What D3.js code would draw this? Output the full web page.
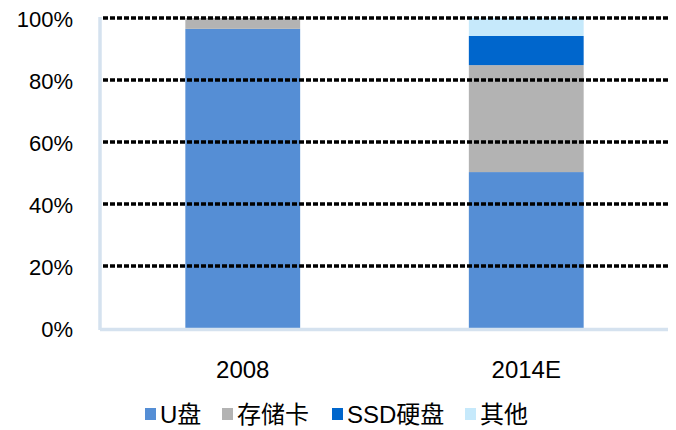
<!DOCTYPE html>
<html>
<head>
<meta charset="utf-8">
<script src="https://cdn.jsdelivr.net/npm/d3@7"></script>
<style>
    body { margin: 0; background: #fff; }
    svg text { font-family: "Liberation Sans", Arial, "Noto Sans CJK SC", sans-serif; fill: #000; }
</style>
</head>
<body>
<div id="chart"></div>
<script>
"use strict";

var categories = ["2008", "2014E"];
var seriesNames = ["U盘", "存储卡", "SSD硬盘", "其他"];
var seriesColors = ["#558ed5", "#b3b3b3", "#0066cc", "#c6e9fb"];
var uDisk = [96.5, 50.3];
var memoryCard = [3.5, 34.5];
var ssd = [0, 9.4];
var other = [0, 5.8];
var yTicks = [0, 20, 40, 60, 80, 100];

var width = 676, height = 430;
var margin = { top: 18, right: 8, bottom: 102, left: 101 };
var innerW = width - margin.left - margin.right;
var innerH = height - margin.top - margin.bottom;

var rows = categories.map(function(c, i) {
    return { cat: c, "U盘": uDisk[i], "存储卡": memoryCard[i], "SSD硬盘": ssd[i], "其他": other[i] };
});
var stacked = d3.stack().keys(seriesNames)(rows);

var svg = d3.select("#chart").append("svg")
    .attr("width", width)
    .attr("height", height);

var g = svg.append("g")
    .attr("transform", "translate(" + margin.left + "," + margin.top + ")");

var x = d3.scaleBand().domain(categories).range([0, innerW]).paddingInner(0.595).paddingOuter(0.2975);
var y = d3.scaleLinear().domain([0, 100]).range([innerH, 0]);
var color = d3.scaleOrdinal().domain(seriesNames).range(seriesColors);

// bars
g.selectAll("g.layer")
    .data(stacked)
    .enter().append("g")
    .attr("class", "layer")
    .attr("fill", function(d) { return color(d.key); })
    .selectAll("rect")
    .data(function(d) { return d; })
    .enter().append("rect")
    .attr("x", function(d) { return x(d.data.cat); })
    .attr("width", x.bandwidth())
    .attr("y", function(d) { return y(d[1]); })
    .attr("height", function(d) { return y(d[0]) - y(d[1]); });

// dashed gridlines on top
g.selectAll("line.grid")
    .data(yTicks.filter(function(t) { return t > 0; }))
    .enter().append("line")
    .attr("class", "grid")
    .attr("x1", 2)
    .attr("x2", innerW)
    .attr("y1", function(d) { return y(d); })
    .attr("y2", function(d) { return y(d); })
    .attr("stroke", "#000")
    .attr("stroke-width", 3.5)
    .attr("stroke-dasharray", "5,2");

// axes lines
g.append("line")
    .attr("x1", -1).attr("x2", -1)
    .attr("y1", -1).attr("y2", innerH + 2)
    .attr("stroke", "#d5e2ef").attr("stroke-width", 3.5);
g.append("line")
    .attr("x1", -1).attr("x2", innerW)
    .attr("y1", innerH + 1.5).attr("y2", innerH + 1.5)
    .attr("stroke", "#d5e2ef").attr("stroke-width", 3.5);

// y tick labels
g.selectAll("text.ytick")
    .data(yTicks)
    .enter().append("text")
    .attr("class", "ytick")
    .attr("x", -28)
    .attr("y", function(d) { return y(d) + 1; })
    .attr("dy", "0.36em")
    .attr("text-anchor", "end")
    .style("font-size", "22px")
    .text(function(d) { return d + "%"; });

// x labels
g.selectAll("text.xtick")
    .data(categories)
    .enter().append("text")
    .attr("class", "xtick")
    .attr("x", function(d) { return x(d) + x.bandwidth() / 2; })
    .attr("y", innerH + 50)
    .attr("text-anchor", "middle")
    .style("font-size", "24px")
    .text(function(d) { return d; });

// legend
var legendX = [145, 222, 332, 465];
var legend = svg.selectAll("g.legend")
    .data(seriesNames)
    .enter().append("g")
    .attr("class", "legend")
    .attr("transform", function(d, i) { return "translate(" + legendX[i] + ",414)"; });
legend.append("rect")
    .attr("x", 0).attr("y", -6)
    .attr("width", 11).attr("height", 12)
    .attr("fill", function(d) { return color(d); });
legend.append("text")
    .attr("x", 15)
    .attr("dy", "0.36em")
    .style("font-size", "24px")
    .text(function(d) { return d; });
</script>
</body>
</html>
